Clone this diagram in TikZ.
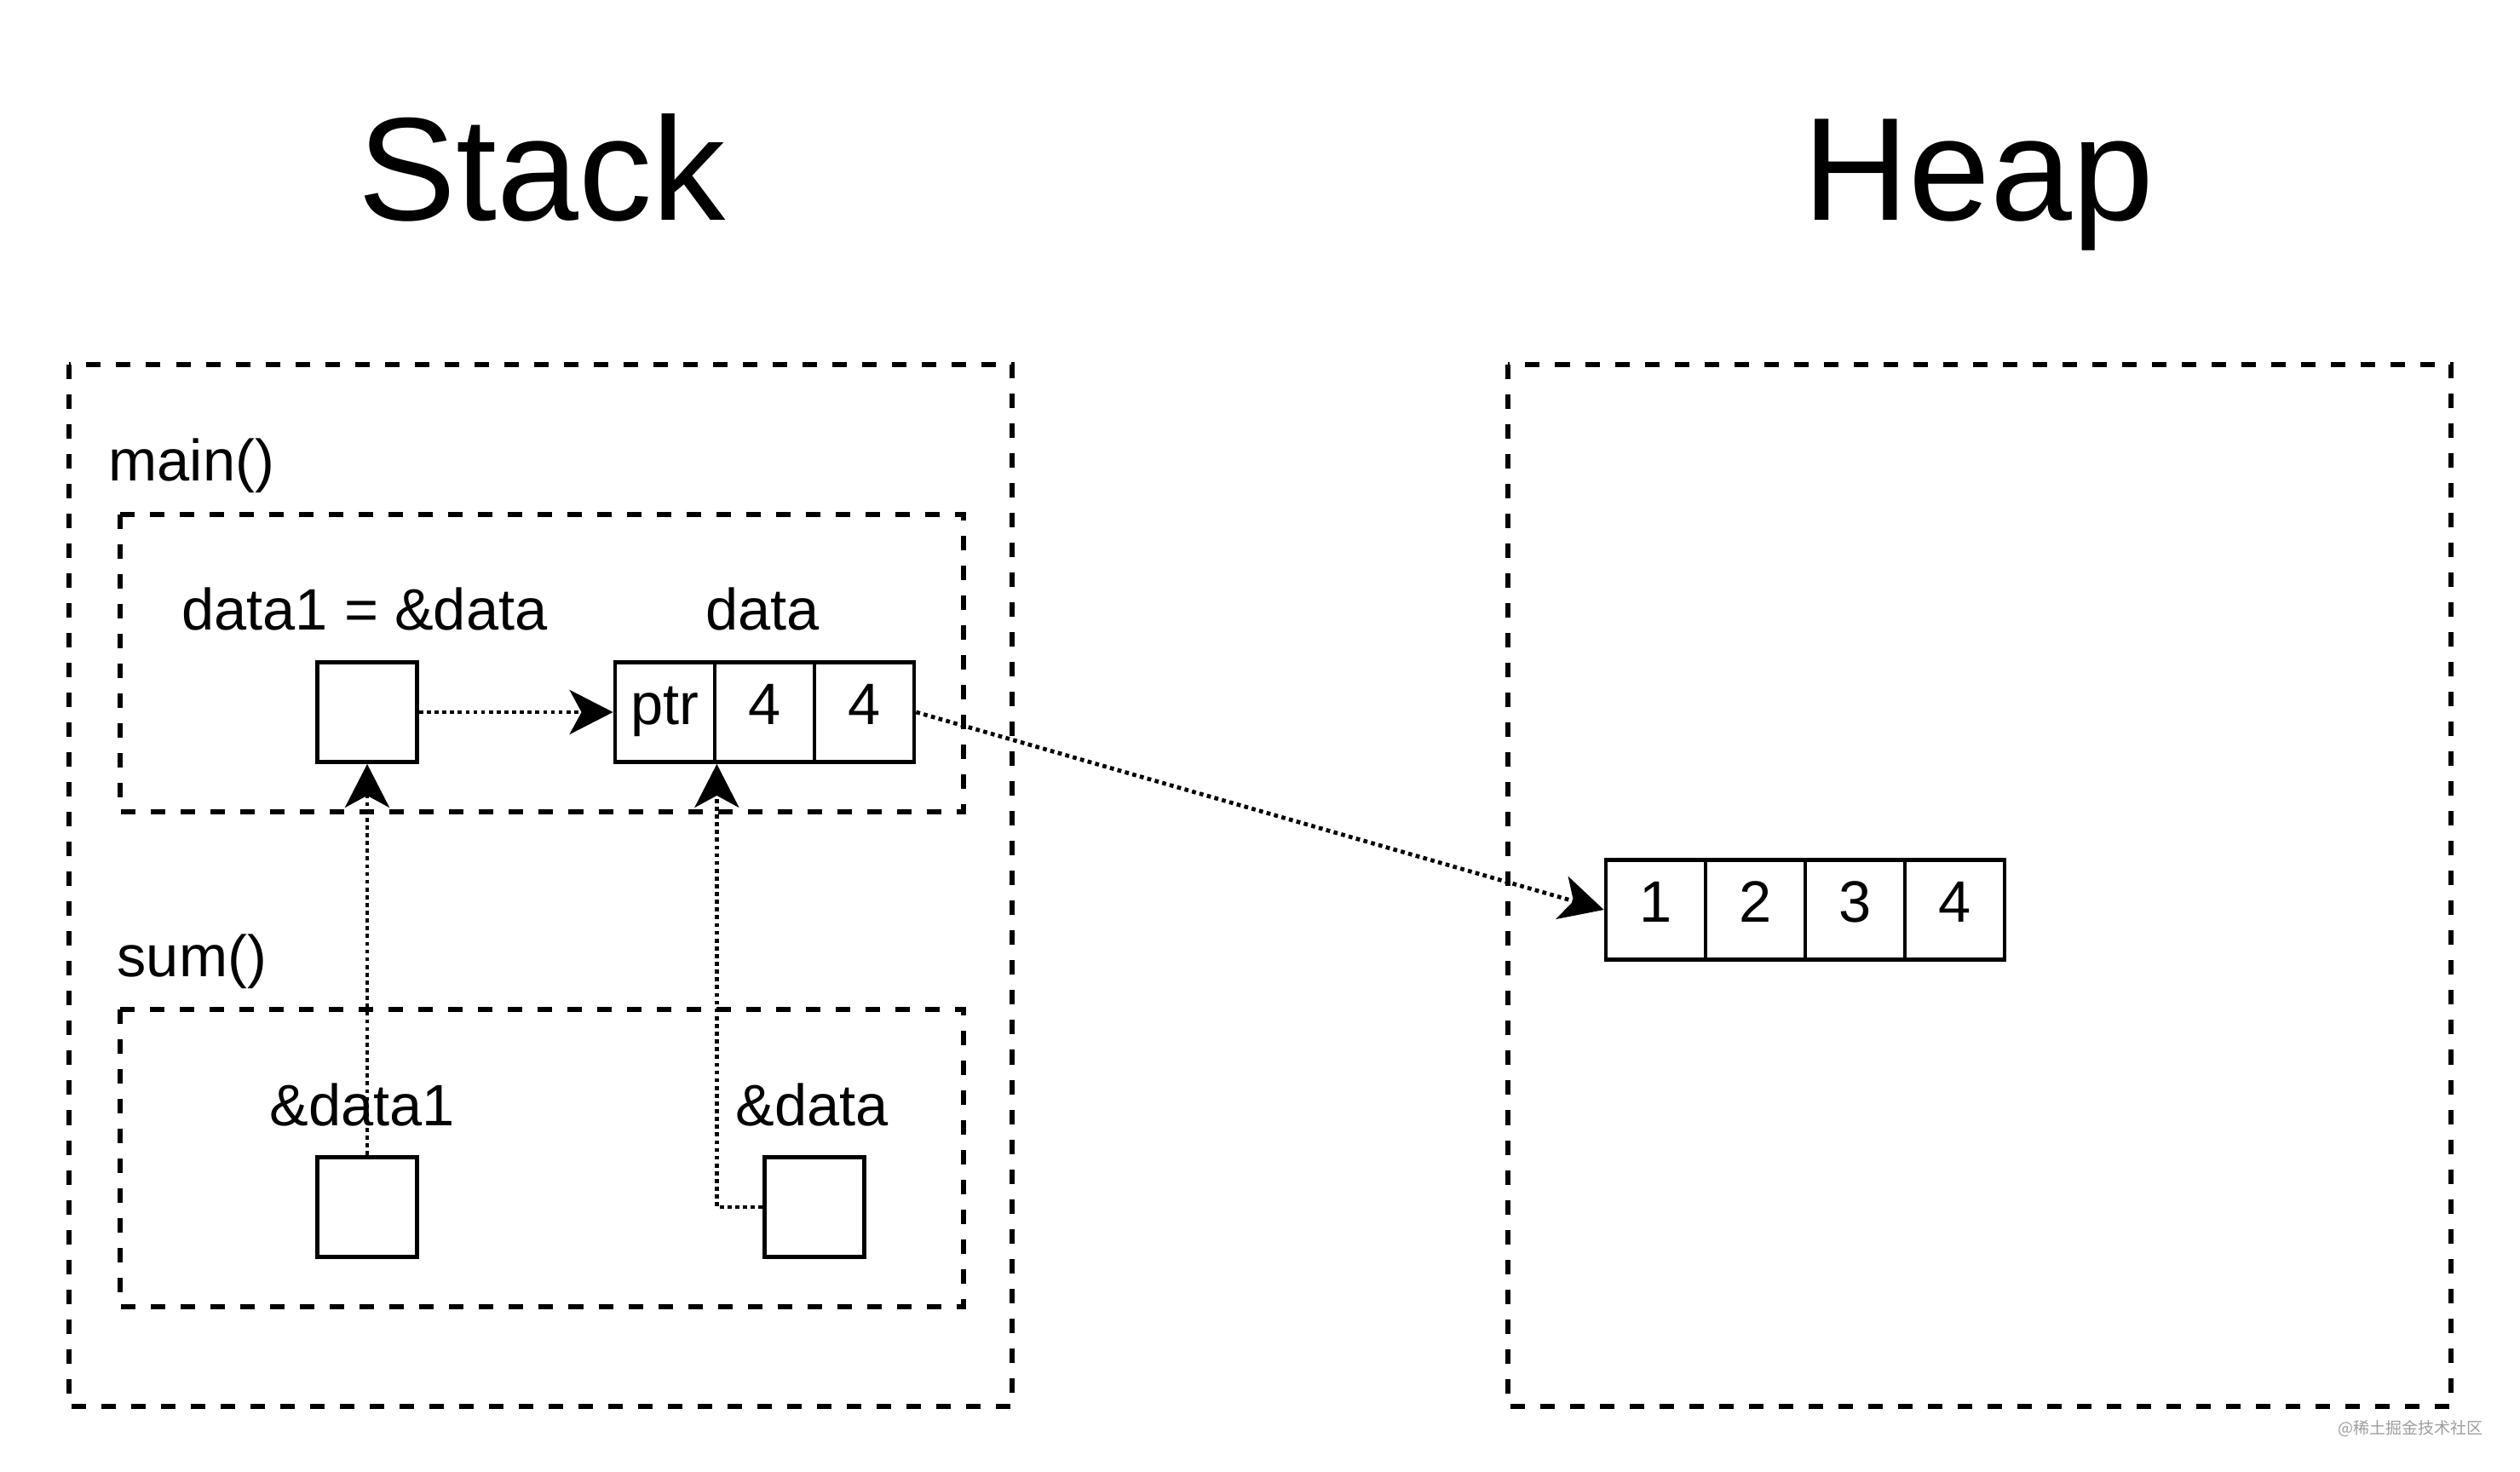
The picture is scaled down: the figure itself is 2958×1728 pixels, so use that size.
\documentclass[tikz,border=0pt]{standalone}
\usepackage{fontspec}
\setmainfont{Liberation Sans}
\newfontfamily\cjkfont{Noto Sans CJK SC}
\usetikzlibrary{arrows.meta}
\begin{document}
\begin{tikzpicture}[x=0.01cm,y=-0.01cm,
  frame/.style={draw=black, line width=0.056cm, dash pattern=on 0.17cm off 0.18cm},
  cell/.style={draw=black, line width=0.047cm, minimum width=1.17cm, minimum height=1.17cm, inner sep=0pt,
    text height=0.82em, text depth=0pt, font=\fontsize{19.5}{23}\selectfont},
  lbl/.style={inner sep=0pt, font=\fontsize{19.5}{23}\selectfont},
  title/.style={inner sep=0pt, font=\fontsize{49}{59}\selectfont},
  conn/.style={line width=0.048cm, dash pattern=on 0.047cm off 0.044cm,
    -{Stealth[length=0.51cm, width=0.52cm, inset=0.14cm]}}
]
\useasboundingbox (0,0) rectangle (2958,1728);
\fill[white] (0,0) rectangle (2958,1728);

% titles
\node[title, anchor=base] (tstack) at (636,259) {Stack};
\node[title, anchor=base] (theap) at (2322,259) {Heap};

% frames
\draw[frame] (81,428) rectangle (1188,1651);
\draw[frame] (1770,428) rectangle (2877,1651);
\draw[frame] (141,604) rectangle (1131,953);
\draw[frame] (141,1185) rectangle (1131,1534);

% frame labels
\node[lbl, anchor=base west] (lmain) at (127,565) {main()};
\node[lbl, anchor=base west] (lsum) at (137,1146) {sum()};

% main() contents
\node[lbl, anchor=base] (ldata1) at (428,739) {data1 = \&data};
\node[lbl, anchor=base] (ldata) at (895,739) {data};
\node[cell] (d1) at (431,836) {};
\node[cell] (p1) at (780.5,836) {ptr};
\node[cell] (p2) at (897.5,836) {4};
\node[cell] (p3) at (1014.5,836) {4};

% sum() contents
\node[lbl, anchor=base] (lsd1) at (425,1321) {\&data1};
\node[lbl, anchor=base] (lsd) at (953,1321) {\&data};
\node[cell] (s1) at (431,1417) {};
\node[cell] (s2) at (956,1417) {};

% heap
\node[cell] (h1) at (1943.5,1068) {1};
\node[cell] (h2) at (2060.5,1068) {2};
\node[cell] (h3) at (2177.5,1068) {3};
\node[cell] (h4) at (2294.5,1068) {4};

% connectors
\draw[conn] (d1.east) -- (p1.west);
\draw[conn] (s1.north) -- (d1.south);
\draw[conn] (s2.west) -| (p1.south east);
\draw[conn] (p3.east) -- (h1.west);

% watermark
\node[inner sep=0pt, text=black!38, font=\cjkfont\fontsize{5.4}{6}\selectfont, anchor=east] (wm) at (2915,1677) {@稀土掘金技术社区};
\end{tikzpicture}
\end{document}
